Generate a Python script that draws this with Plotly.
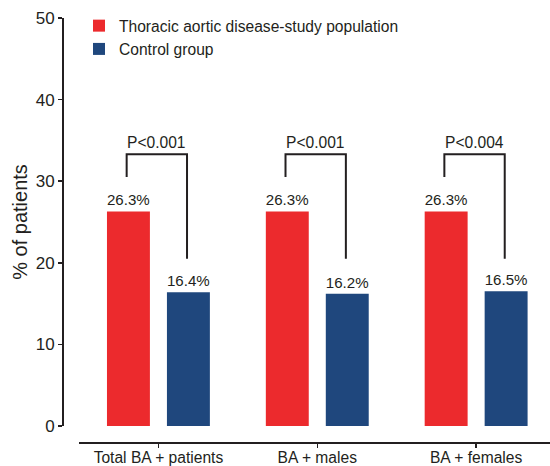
import plotly.graph_objects as go

categories = ["Total BA + patients", "BA + males", "BA + females"]
study_values = [26.3, 26.3, 26.3]
control_values = [16.4, 16.2, 16.5]
p_labels = ["P<0.001", "P<0.001", "P<0.004"]
series_names = ["Thoracic aortic disease-study population", "Control group"]
y_ticks = [0, 10, 20, 30, 40, 50]

RED = "#EC2A2D"
BLUE = "#1F477D"
INK = "#231F20"
FONT = "Liberation Sans, Arial, Helvetica, sans-serif"
FS = 15.6

W, H = 550, 466
ML, MR, MT, MB = 62, 0, 18, 24
plot_h = H - MT - MB
plot_w = W - ML - MR

fig = go.Figure()
fig.add_trace(go.Bar(
    x=list(range(len(categories))), y=study_values, name=series_names[0],
    marker=dict(color=RED, line=dict(width=0)),
    text=[f"{v:.1f}%" for v in study_values], textposition="outside",
    textfont=dict(size=FS, color=INK, family=FONT), cliponaxis=False,
))
fig.add_trace(go.Bar(
    x=list(range(len(categories))), y=control_values, name=series_names[1],
    marker=dict(color=BLUE, line=dict(width=0)),
    text=[f"{v:.1f}%" for v in control_values], textposition="outside",
    textfont=dict(size=FS, color=INK, family=FONT), cliponaxis=False,
))

# significance brackets
bracket_top = 33.3
left_bottom = 30.5
right_bottom = 20.5
for i, p in enumerate(p_labels):
    xl, xr = i - 0.2, i + 0.18
    fig.add_shape(type="path",
                  path=f"M {xl},{left_bottom} L {xl},{bracket_top} L {xr},{bracket_top} L {xr},{right_bottom}",
                  xref="x", yref="y", line=dict(color=INK, width=2))
    fig.add_annotation(x=i - 0.01, y=bracket_top, text=p, showarrow=False,
                       xref="x", yref="y", yanchor="bottom", yshift=1,
                       font=dict(size=FS, color=INK, family=FONT))

x0_px = 79
fig.update_layout(
    width=W, height=H,
    margin=dict(l=ML, r=MR, t=MT, b=MB, autoexpand=False),
    paper_bgcolor="white", plot_bgcolor="white",
    barmode="group", bargap=0.245, bargroupgap=0.284,
    font=dict(family=FONT, color=INK),
    showlegend=True,
    legend=dict(x=(79 - ML) / plot_w, y=1.0 + 9 / plot_h, xanchor="left", yanchor="top",
                font=dict(size=FS, color=INK, family=FONT),
                bgcolor="rgba(0,0,0,0)", tracegroupgap=0),
    xaxis=dict(
        domain=[(x0_px - ML) / plot_w, 1], anchor="free", position=0,
        range=[-0.5, 2.465], automargin=False,
        tickmode="array", tickvals=list(range(len(categories))), ticktext=categories,
        showline=True, linecolor=INK, linewidth=1.5,
        ticks="outside", ticklen=4, tickwidth=1.5, tickcolor=INK,
        tickfont=dict(size=FS, color=INK, family=FONT),
        ticklabelstandoff=-3,
        showgrid=False, zeroline=False,
    ),
    yaxis=dict(
        domain=[16 / plot_h, 1], anchor="free", position=0,
        range=[0, 50], tickvals=y_ticks, automargin=False,
        showline=True, linecolor=INK, linewidth=1.5,
        ticks="outside", ticklen=4, tickwidth=1.5, tickcolor=INK,
        tickfont=dict(size=17, color=INK, family=FONT),
        showgrid=False, zeroline=False,
        title=dict(text="% of patients", font=dict(size=20, color=INK, family=FONT), standoff=1),
    ),
)

fig.write_html("out.html",
               config={"displayModeBar": False, "staticPlot": True},
               post_script="document.body.style.margin='0';document.body.style.padding='0';")
